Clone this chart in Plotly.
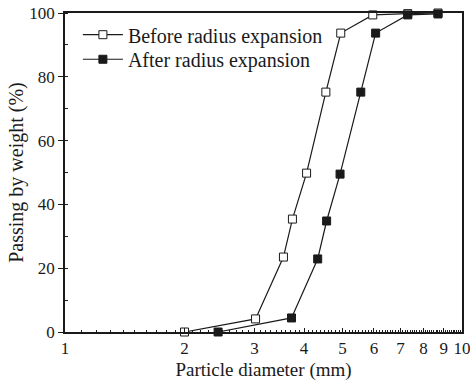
import numpy as np
import plotly.graph_objects as go

# Data
before_d = [2.0, 3.02, 3.55, 3.74, 4.06, 4.54, 4.95, 5.96, 7.3, 8.7]
before_p = [0.0, 4.1, 23.5, 35.4, 49.8, 75.2, 93.7, 99.4, 99.8, 100.0]
after_d = [2.43, 3.72, 4.33, 4.56, 4.93, 5.56, 6.06, 7.3, 8.7]
after_p = [0.0, 4.4, 22.9, 34.8, 49.5, 75.2, 93.7, 99.4, 99.7]
x_ticks = [1, 2, 3, 4, 5, 6, 7, 8, 9, 10]
y_ticks = [0, 20, 40, 60, 80, 100]

FONT = "Liberation Serif"
INK = "#1a1a1a"

fig = go.Figure()
fig.add_trace(go.Scatter(
    x=before_d, y=before_p, mode="lines+markers", name="Before radius expansion",
    line=dict(color=INK, width=1.2),
    marker=dict(symbol="square", size=8, color="white", line=dict(color=INK, width=1)),
    cliponaxis=False, legend="legend",
))
fig.add_trace(go.Scatter(
    x=after_d, y=after_p, mode="lines+markers", name="After radius expansion",
    line=dict(color=INK, width=1.2),
    marker=dict(symbol="square", size=8, color=INK, line=dict(color=INK, width=1)),
    cliponaxis=False, legend="legend2",
))

minor_x = [v for v in np.round(np.arange(1.1, 10.0, 0.1), 2) if abs(v - round(v)) > 1e-6]

leg_common = dict(
    xanchor="left", yanchor="middle",
    bgcolor="rgba(0,0,0,0)", font=dict(family=FONT, size=20, color=INK),
    itemwidth=40,
)

fig.update_layout(
    width=470, height=392,
    margin=dict(l=65, r=8, t=13, b=60, autoexpand=False),
    paper_bgcolor="white", plot_bgcolor="white",
    font=dict(family=FONT, size=16, color=INK),
    showlegend=True,
    legend=dict(x=0.0325, y=0.932, **leg_common),
    legend2=dict(x=0.0325, y=0.855, **leg_common),
    xaxis=dict(
        type="log", range=[0, 1], automargin=False,
        tickvals=x_ticks, ticktext=[str(v) for v in x_ticks],
        ticklabeloverflow="allow",
        ticks="inside", ticklen=4, tickwidth=1, tickcolor=INK,
        minor=dict(tickvals=minor_x, ticks="inside", ticklen=2, tickwidth=1, tickcolor=INK, showgrid=False),
        showline=True, linecolor=INK, linewidth=1.5, mirror=True,
        showgrid=False, zeroline=False,
        tickfont=dict(family=FONT, size=17, color=INK),
        title=dict(text="Particle diameter (mm)", font=dict(family=FONT, size=19, color=INK), standoff=6),
    ),
    yaxis=dict(
        range=[0, 100], automargin=False,
        tickvals=y_ticks,
        ticklabeloverflow="allow",
        ticks="outside", ticklen=5, tickwidth=1, tickcolor=INK,
        minor=dict(dtick=10, ticks="inside", ticklen=3, tickwidth=1, tickcolor=INK, showgrid=False),
        showline=True, linecolor=INK, linewidth=1.5, mirror=True,
        showgrid=False, zeroline=False,
        tickfont=dict(family=FONT, size=17, color=INK),
        title=dict(text="Passing by weight (%)", font=dict(family=FONT, size=20, color=INK), standoff=0),
    ),
)

fig.write_html("out.html")
